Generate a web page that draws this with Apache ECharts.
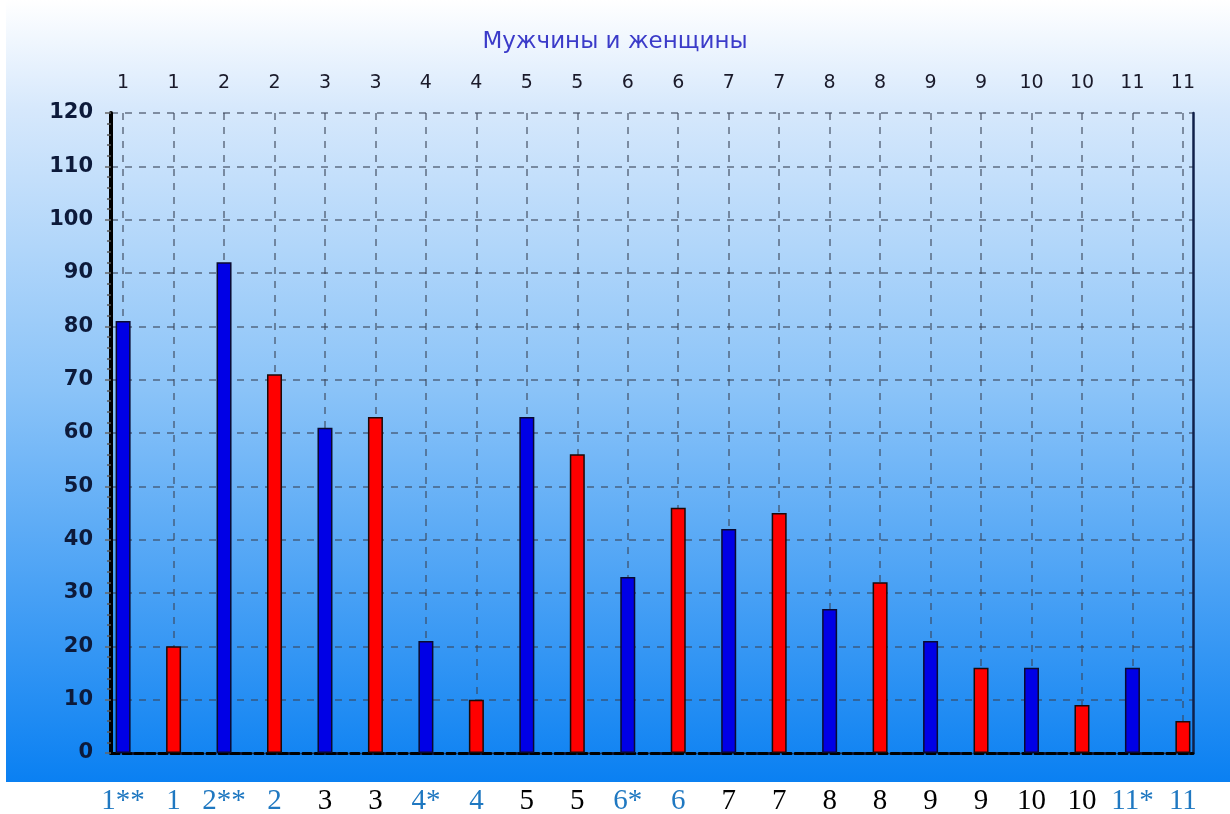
<!DOCTYPE html>
<html>
<head>
<meta charset="utf-8">
<script src="https://cdn.jsdelivr.net/npm/echarts@6/dist/echarts.min.js"></script>
<style>
  html, body { margin: 0; padding: 0; background: #fff; }
  #chart { width: 1230px; height: 814px; }
</style>
</head>
<body>
<div id="chart"></div>
<script>
// positions 1..22 along the x axis, men on odd slots, women on even
var topLabels = ['1', '1', '2', '2', '3', '3', '4', '4', '5', '5', '6', '6',
  '7', '7', '8', '8', '9', '9', '10', '10', '11', '11'];
var bottomLabels = ['1**', '1', '2**', '2', '3', '3', '4*', '4', '5', '5', '6*', '6',
  '7', '7', '8', '8', '9', '9', '10', '10', '11*', '11'];
var bottomBlue = [true, true, true, true, false, false, true, true, false, false, true, true,
  false, false, false, false, false, false, false, false, true, true];
var menValues = [81, 92, 61, 21, 63, 33, 42, 27, 21, 16, 16];
var womenValues = [20, 71, 63, 10, 56, 46, 45, 32, 16, 9, 6];
var yTicks = [0, 10, 20, 30, 40, 50, 60, 70, 80, 90, 100, 110, 120];

var positions = topLabels.map(function (_, i) { return i + 1; });
var menData = menValues.map(function (v, i) { return [2 * i + 1, v]; });
var womenData = womenValues.map(function (v, i) { return [2 * i + 2, v]; });

var chart = echarts.init(document.getElementById('chart'));

var gridLine = { show: true, lineStyle: { color: 'rgba(60,70,90,0.75)', type: [7, 7], width: 1.5 } };

var option = {
  animation: false,
  backgroundColor: '#ffffff',
  graphic: [{
    type: 'rect',
    left: 6, top: 0,
    shape: { width: 1224, height: 782 },
    z: -10,
    style: {
      fill: new echarts.graphic.LinearGradient(0, 0, 0, 1, [
        { offset: 0, color: '#ffffff' },
        { offset: 0.14, color: '#d6e8fc' },
        { offset: 0.5, color: '#8ac3f8' },
        { offset: 1, color: '#0a80f2' }
      ])
    }
  }],
  title: {
    text: 'Мужчины и женщины',
    left: 'center',
    top: 26,
    textStyle: { color: '#3b3bc9', fontFamily: 'DejaVu Sans', fontSize: 23, fontWeight: 'normal' }
  },
  grid: { left: 111, right: 37, top: 113, bottom: 61, outerBoundsMode: 'none' },
  xAxis: [{
    type: 'value',
    position: 'bottom',
    min: 0.76, max: 22.2,
    axisLine: { show: true, onZero: false, lineStyle: { color: '#10204a', width: 3, type: [8, 8] } },
    axisTick: { show: false },
    splitLine: { show: false },
    axisLabel: {
      customValues: positions,
      margin: 34,
      formatter: function (v) {
        var i = Math.round(v) - 1;
        return (bottomBlue[i] ? '{b|' : '{k|') + bottomLabels[i] + '}';
      },
      rich: {
        b: { color: '#1f78c1', fontFamily: 'Liberation Serif', fontSize: 29 },
        k: { color: '#000000', fontFamily: 'Liberation Serif', fontSize: 29 }
      }
    }
  }, {
    type: 'value',
    position: 'top',
    min: 0.76, max: 22.2,
    axisLine: { show: true, lineStyle: { color: '#000000', width: 3, type: [8, 4] } },
    axisTick: { show: true, customValues: positions, length: 5, inside: false, lineStyle: { color: '#555', width: 1.5 } },
    splitLine: gridLine,
    axisLabel: {
      customValues: positions,
      margin: 20,
      color: '#1a1a2a',
      fontFamily: 'DejaVu Sans',
      fontSize: 19,
      formatter: function (v) { return topLabels[Math.round(v) - 1]; }
    }
  }],
  yAxis: [{
    type: 'value',
    min: 0, max: 120, interval: 10,
    axisLine: { show: true, lineStyle: { color: '#000000', width: 4 } },
    axisTick: { show: true, length: 6, lineStyle: { color: '#666', width: 1.5 } },
    minorTick: { show: true, splitNumber: 5, length: 4, lineStyle: { color: '#555', width: 1.5 } },
    splitLine: gridLine,
    axisLabel: {
      customValues: yTicks,
      margin: 18,
      color: '#0d1a3a',
      fontFamily: 'DejaVu Sans',
      fontWeight: 'bold',
      fontSize: 21
    }
  }, {
    type: 'value',
    position: 'right',
    min: 0, max: 120,
    axisLine: { show: true, lineStyle: { color: '#10204a', width: 2.5 } },
    axisTick: { show: false },
    axisLabel: { show: false },
    splitLine: { show: false }
  }],
  series: [{
    name: 'Мужчины',
    type: 'bar',
    xAxisIndex: 0,
    yAxisIndex: 0,
    barWidth: 15,
    data: menData,
    itemStyle: { color: '#0000e6', borderColor: '#0a0a30', borderWidth: 1.5 }
  }, {
    name: 'Женщины',
    type: 'bar',
    xAxisIndex: 0,
    yAxisIndex: 0,
    barWidth: 15,
    barGap: '-100%',
    data: womenData,
    itemStyle: { color: '#ff0000', borderColor: '#1a0a0a', borderWidth: 1.5 }
  }]
};

chart.setOption(option);
</script>
</body>
</html>
